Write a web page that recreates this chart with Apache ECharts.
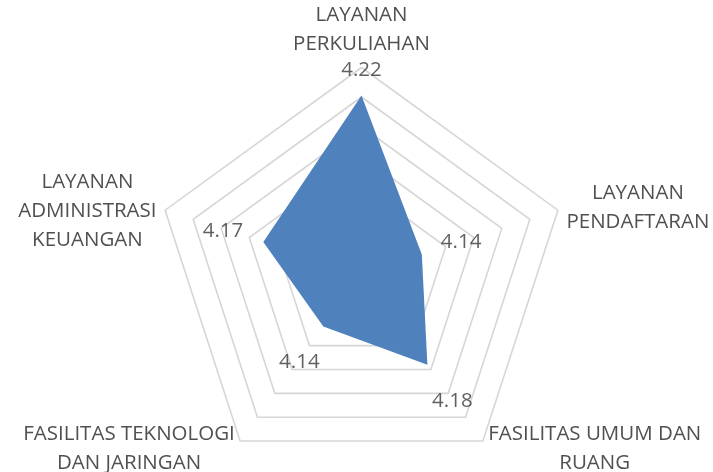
<!DOCTYPE html>
<html>
<head>
<meta charset="utf-8">
<script src="https://cdn.jsdelivr.net/npm/echarts@6/dist/echarts.min.js"></script>
<style>
  html, body { margin: 0; padding: 0; background: #fff; }
  #main { width: 713px; height: 472px; }
</style>
</head>
<body>
<div id="main"></div>
<script>
// indicators, counter-clockwise from the top (ECharts radar order)
const categories = [
  'LAYANAN\nPERKULIAHAN',
  'LAYANAN\nADMINISTRASI\nKEUANGAN',
  'FASILITAS TEKNOLOGI\nDAN JARINGAN',
  'FASILITAS UMUM DAN\nRUANG',
  'LAYANAN\nPENDAFTARAN'
];
const scores = [4.221, 4.170, 4.144, 4.176, 4.143];
const axisMin = 4.10;
const axisMax = 4.24;
const axisStep = 0.02;

const CENTER = [361.5, 274];
const RADIUS = 206.5;
const FONT = 'Open Sans';

// where each value label sits around its point
const labelPlace = [
  { position: 'top', distance: 13, offset: [0, 0] },
  { position: 'left', distance: 20, offset: [0, -11] },
  { position: 'bottom', distance: 24, offset: [-24, 0] },
  { position: 'bottom', distance: 24, offset: [25, 0] },
  { position: 'right', distance: 19, offset: [0, -12] }
];

const chart = echarts.init(document.getElementById('main'));

chart.setOption({
  animation: false,
  radar: {
    center: CENTER,
    radius: RADIUS,
    startAngle: 90,
    shape: 'polygon',
    splitNumber: Math.round((axisMax - axisMin) / axisStep),
    indicator: categories.map(function (name) {
      return { name: name, min: axisMin, max: axisMax };
    }),
    nameGap: 9,
    axisName: {
      color: '#505050',
      fontSize: 20.5,
      fontFamily: FONT,
      lineHeight: 29,
      formatter: function (name) {
        // the three-line name on the left sits a little lower in the original
        const key = name.split('\n').length > 2 ? 'd' : 'c';
        return name.split('\n').map(function (s) { return '{' + key + '|' + s + '}'; }).join('\n');
      },
      rich: {
        c: { align: 'center', color: '#505050', fontSize: 20.5, fontFamily: FONT, lineHeight: 29 },
        d: { align: 'center', color: '#505050', fontSize: 20.5, fontFamily: FONT, lineHeight: 29, padding: [8, 0, 0, 0] }
      }
    },
    axisLine: { show: false },
    axisTick: { show: false },
    axisLabel: { show: false },
    splitArea: { show: false },
    splitLine: { lineStyle: { color: '#d6d6d6', width: 1.6 } }
  },
  polar: {
    center: CENTER,
    radius: RADIUS
  },
  angleAxis: {
    type: 'category',
    data: categories,
    startAngle: 90,
    clockwise: false,
    boundaryGap: false,
    show: false
  },
  radiusAxis: {
    min: axisMin,
    max: axisMax,
    show: false
  },
  series: [
    {
      type: 'radar',
      symbol: 'none',
      silent: true,
      lineStyle: { width: 0 },
      itemStyle: { color: '#4f81bd' },
      areaStyle: { color: '#4f81bd', opacity: 1 },
      data: [{ value: scores }]
    },
    {
      type: 'scatter',
      coordinateSystem: 'polar',
      symbolSize: 0,
      silent: true,
      z: 5,
      data: scores.map(function (v, i) {
        return {
          value: [v, i],
          label: Object.assign({ show: true }, labelPlace[i])
        };
      }),
      label: {
        color: '#383838',
        fontSize: 20.5,
        fontFamily: FONT,
        lineHeight: 24,
        formatter: function (p) { return p.value[0].toFixed(2); }
      }
    }
  ]
});
</script>
</body>
</html>
